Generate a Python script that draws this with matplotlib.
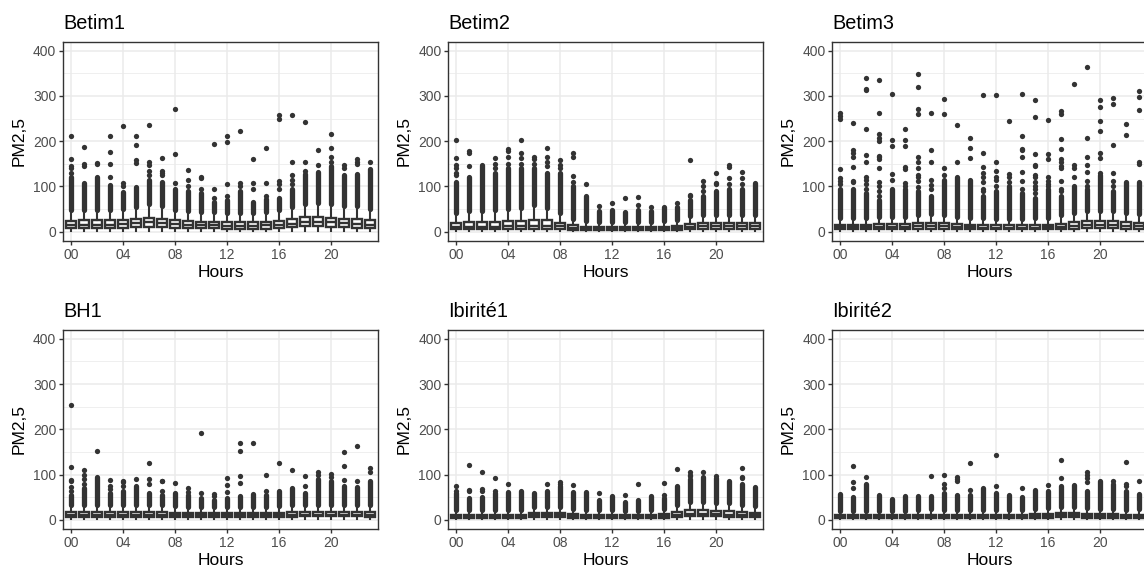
import numpy as np
import matplotlib
matplotlib.use('Agg')
import matplotlib.pyplot as plt

plt.rcParams['font.family'] = ['Liberation Sans', 'DejaVu Sans']

HOURS = np.arange(24)
TICK_HOURS = [0, 4, 8, 12, 16, 20]
TICK_LABELS = ['00', '04', '08', '12', '16', '20']

# ---- Betim1 ----
betim1_lo = [1, 1, 1, 1, 1, 1, 2, 2, 1, 1, 1, 1, 1, 1, 1, 1, 1, 2, 2, 2, 2, 2, 1, 1]
betim1_q1 = [8, 9, 9, 9, 9, 10, 11, 10, 9, 8, 8, 8, 7, 7, 7, 7, 8, 10, 12, 12, 11, 10, 9, 8]
betim1_med = [15, 16, 16, 16, 17, 19, 21, 19, 17, 15, 14, 14, 13, 13, 13, 14, 15, 18, 21, 22, 21, 19, 18, 16]
betim1_q3 = [24, 25, 25, 25, 26, 28, 31, 29, 25, 23, 22, 22, 21, 21, 21, 22, 24, 28, 32, 33, 31, 29, 28, 25]
betim1_hi = [48, 49, 49, 49, 51, 55, 61, 57, 49, 45, 43, 43, 42, 42, 42, 44, 48, 55, 62, 64, 61, 57, 56, 50]
betim1_dense = [120, 108, 122, 104, 88, 98, 115, 110, 95, 90, 85, 65, 70, 90, 65, 72, 75, 95, 128, 132, 145, 125, 128, 138]
betim1_out = [[130, 140, 145, 160, 212], [145, 150, 188], [150, 152], [122, 150, 176, 212],
              [100, 108, 233], [152, 158, 192, 212], [125, 135, 148, 155, 236], [125, 130, 135, 162],
              [108, 172, 271], [100, 115, 136], [95, 118, 120], [75, 95, 193],
              [80, 105, 198, 211], [100, 108, 223], [95, 108, 160], [80, 108, 186],
              [95, 105, 112, 248, 257], [105, 115, 125, 153, 257], [135, 153, 243], [147, 181],
              [155, 166, 185, 217], [140, 147], [150, 155, 160], [155]]

# ---- Betim2 ----
betim2_lo = [1, 1, 1, 1, 1, 1, 1, 1, 1, 1, 1, 1, 1, 1, 1, 1, 1, 1, 1, 1, 1, 1, 1, 1]
betim2_q1 = [5, 5, 5, 5, 5, 5, 6, 6, 5, 4, 3, 3, 3, 3, 3, 3, 3, 4, 5, 6, 6, 6, 6, 6]
betim2_med = [11, 11, 11, 11, 12, 12, 13, 12, 12, 9, 7, 6, 6, 6, 6, 6, 6, 8, 11, 12, 12, 12, 12, 12]
betim2_q3 = [20, 21, 21, 22, 23, 24, 27, 25, 20, 14, 11, 10, 10, 10, 10, 10, 11, 13, 17, 19, 19, 19, 19, 19]
betim2_hi = [42, 45, 45, 47, 50, 52, 58, 53, 42, 29, 23, 21, 21, 21, 21, 21, 23, 26, 35, 38, 38, 38, 38, 38]
betim2_dense = [110, 120, 148, 130, 140, 140, 140, 130, 130, 100, 78, 45, 48, 44, 48, 45, 55, 55, 70, 80, 90, 95, 95, 107]
betim2_out = [[125, 130, 140, 148, 162, 202], [145, 175, 178], [], [140, 150, 163],
              [150, 165, 178, 183], [150, 162, 175, 202], [150, 160, 165], [145, 155, 165, 185],
              [140, 147, 158], [110, 123, 165, 174], [106], [57],
              [64], [75], [58, 76], [55],
              [], [63], [80, 82, 158], [90, 100, 113],
              [105, 108, 130], [105, 118, 143, 148], [105, 118, 131], []]

# ---- Betim3 ----
betim3_lo = [1, 1, 1, 1, 1, 1, 1, 1, 1, 1, 1, 1, 1, 1, 1, 1, 1, 1, 1, 1, 1, 1, 1, 1]
betim3_q1 = [6, 6, 6, 6, 6, 6, 6, 7, 7, 6, 6, 5, 5, 5, 5, 5, 6, 6, 7, 8, 8, 8, 7, 7]
betim3_med = [10, 10, 10, 11, 11, 11, 12, 13, 12, 11, 10, 9, 9, 9, 9, 9, 10, 11, 13, 15, 15, 15, 13, 13]
betim3_q3 = [16, 16, 16, 17, 17, 17, 19, 20, 19, 17, 16, 15, 14, 14, 14, 15, 16, 18, 21, 23, 23, 23, 21, 20]
betim3_hi = [31, 31, 31, 33, 33, 33, 38, 39, 37, 33, 31, 30, 28, 28, 28, 30, 31, 36, 42, 46, 46, 46, 42, 39]
betim3_dense = [95, 95, 85, 70, 95, 95, 90, 80, 115, 120, 115, 80, 90, 100, 85, 75, 95, 80, 100, 95, 125, 90, 110, 110]
betim3_out = [[105, 112, 118, 138, 250, 255, 262], [110, 112, 143, 165, 175, 180, 240],
              [95, 105, 115, 122, 155, 170, 227, 312, 315, 340],
              [80, 90, 100, 110, 140, 160, 165, 168, 200, 208, 215, 263, 335],
              [115, 128, 190, 202, 305], [102, 108, 138, 142, 190, 203, 227],
              [98, 112, 120, 125, 140, 155, 165, 260, 272, 320, 348], [95, 103, 115, 155, 180, 263],
              [125, 140, 260, 293], [155, 235], [162, 185, 207],
              [90, 95, 110, 120, 130, 143, 175, 303], [100, 115, 122, 135, 153, 303],
              [110, 120, 127, 245], [95, 112, 133, 165, 180, 182, 212, 305],
              [85, 95, 100, 110, 120, 125, 145, 148, 172, 253, 290],
              [100, 105, 112, 122, 160, 172, 246],
              [90, 95, 112, 140, 145, 153, 160, 183, 205, 260, 267],
              [120, 140, 148, 327], [102, 112, 133, 148, 165, 207, 363],
              [130, 162, 175, 222, 245, 275, 290], [100, 112, 130, 192, 283, 296],
              [213, 238], [150, 155, 268, 297, 310]]

# ---- BH1 ----
bh1_lo = [1, 1, 1, 1, 1, 1, 1, 1, 1, 1, 1, 1, 1, 1, 1, 1, 1, 1, 1, 1, 1, 1, 1, 1]
bh1_q1 = [7, 7, 7, 7, 7, 7, 7, 7, 7, 6, 6, 6, 6, 6, 6, 6, 7, 7, 8, 8, 8, 8, 8, 7]
bh1_med = [11, 11, 11, 11, 11, 11, 11, 11, 11, 10, 10, 10, 10, 10, 10, 10, 11, 11, 12, 12, 12, 12, 12, 11]
bh1_q3 = [17, 17, 17, 17, 17, 17, 17, 17, 16, 15, 15, 15, 15, 15, 15, 15, 16, 17, 18, 18, 18, 18, 18, 17]
bh1_hi = [32, 32, 32, 32, 32, 32, 32, 32, 30, 28, 28, 28, 28, 28, 28, 28, 30, 32, 33, 33, 33, 33, 33, 32]
bh1_dense = [55, 70, 95, 60, 65, 75, 60, 55, 60, 55, 48, 45, 48, 52, 58, 55, 65, 70, 60, 90, 85, 75, 72, 85]
bh1_out = [[65, 72, 85, 88, 118, 253], [80, 90, 100, 110], [152], [68, 75, 88],
           [75, 83, 87], [90], [80, 90, 125], [65, 85, 87],
           [82], [62, 70], [60, 192], [52, 57],
           [62, 77, 93], [82, 96, 152, 170], [171], [65, 100],
           [125], [110], [75, 97], [100, 107],
           [95, 102], [88, 120, 150], [85, 163], [105, 115]]

# ---- Ibirite1 ----
ibirite1_lo = [1, 1, 1, 1, 1, 1, 1, 1, 1, 1, 1, 1, 1, 1, 1, 1, 1, 1, 1, 1, 1, 1, 1, 1]
ibirite1_q1 = [5, 5, 5, 5, 5, 5, 6, 6, 6, 5, 5, 5, 5, 5, 5, 5, 5, 7, 8, 8, 8, 7, 7, 6]
ibirite1_med = [8, 8, 8, 8, 8, 8, 10, 10, 10, 9, 8, 8, 8, 8, 8, 8, 9, 12, 14, 14, 13, 12, 12, 11]
ibirite1_q3 = [12, 12, 12, 12, 12, 12, 15, 15, 15, 13, 12, 12, 12, 11, 11, 12, 13, 18, 21, 21, 20, 19, 18, 16]
ibirite1_hi = [22, 22, 22, 22, 22, 22, 28, 28, 28, 25, 22, 22, 22, 20, 20, 22, 25, 34, 40, 40, 38, 37, 34, 31]
ibirite1_dense = [60, 48, 50, 60, 62, 63, 60, 65, 75, 62, 62, 45, 52, 40, 45, 52, 48, 75, 90, 95, 92, 85, 80, 72]
ibirite1_out = [[65, 75], [65, 66, 122], [65, 68, 106], [65, 93],
                [80], [], [], [80],
                [80, 84], [78], [], [60],
                [], [55], [80], [],
                [55, 82], [112], [97, 100, 107], [105],
                [97], [], [92, 95, 114], []]

# ---- Ibirite2 ----
ibirite2_lo = [1, 1, 1, 1, 1, 1, 1, 1, 1, 1, 1, 1, 1, 1, 1, 1, 1, 1, 1, 1, 1, 1, 1, 1]
ibirite2_q1 = [4, 4, 4, 4, 4, 4, 4, 4, 5, 5, 5, 5, 5, 5, 5, 5, 5, 6, 6, 5, 5, 5, 5, 4]
ibirite2_med = [7, 7, 7, 7, 7, 7, 7, 8, 8, 8, 8, 8, 8, 8, 8, 8, 9, 10, 10, 9, 9, 9, 8, 8]
ibirite2_q3 = [10, 10, 10, 10, 10, 10, 11, 12, 12, 12, 12, 12, 12, 12, 12, 13, 14, 15, 15, 14, 13, 13, 12, 12]
ibirite2_hi = [19, 19, 19, 19, 19, 19, 21, 24, 22, 22, 22, 22, 22, 22, 22, 25, 27, 28, 28, 27, 25, 25, 22, 24]
ibirite2_dense = [57, 50, 80, 55, 47, 53, 52, 52, 60, 55, 55, 70, 60, 56, 50, 67, 65, 75, 77, 65, 85, 80, 65, 58]
ibirite2_out = [[], [70, 83, 120], [95], [],
                [], [], [], [98],
                [70, 80, 100], [85, 90, 94], [67, 125], [],
                [75, 144], [], [70], [],
                [78], [93, 133], [], [83, 92, 100, 107],
                [], [86], [75, 80, 128], [85]]

PANELS = [
    ('Betim1', betim1_lo, betim1_q1, betim1_med, betim1_q3, betim1_hi, betim1_dense, betim1_out),
    ('Betim2', betim2_lo, betim2_q1, betim2_med, betim2_q3, betim2_hi, betim2_dense, betim2_out),
    ('Betim3', betim3_lo, betim3_q1, betim3_med, betim3_q3, betim3_hi, betim3_dense, betim3_out),
    ('BH1', bh1_lo, bh1_q1, bh1_med, bh1_q3, bh1_hi, bh1_dense, bh1_out),
    ('Ibirité1', ibirite1_lo, ibirite1_q1, ibirite1_med, ibirite1_q3, ibirite1_hi, ibirite1_dense, ibirite1_out),
    ('Ibirité2', ibirite2_lo, ibirite2_q1, ibirite2_med, ibirite2_q3, ibirite2_hi, ibirite2_dense, ibirite2_out),
]

DARK = '#333333'
GRID = '#EBEBEB'
W, H = 1144, 572

# axes boxes in pixels (left, top) -- right column runs off the figure edge
COL_LEFT = [63.2, 448.3, 832.3]
ROW_TOP = [41.6, 329.8]
AX_W, AX_H = 314.6, 199.2


def draw_panel(ax, title, lo, q1, med, q3, hi, dense, outs):
    ax.set_axisbelow(True)
    ax.set_ylim(-20, 420)
    ax.set_yticks([0, 100, 200, 300, 400])
    ax.set_yticks([50, 150, 250, 350], minor=True)
    ax.grid(which='major', color=GRID, linewidth=1.1)
    ax.grid(which='minor', axis='y', color=GRID, linewidth=0.55)
    ax.tick_params(which='minor', length=0)

    # dense run of outliers above the upper whisker
    ax.vlines(HOURS, hi, dense, color=DARK, linewidth=3.8, capstyle='round', zorder=2)
    xs = [h for h, vals in zip(HOURS, outs) for _ in vals]
    ys = [v for vals in outs for v in vals]
    ax.plot(xs, ys, 'o', ms=3.8, color=DARK, mec='none', zorder=2)

    stats = [dict(whislo=a, q1=b, med=c, q3=d, whishi=e, fliers=[])
             for a, b, c, d, e in zip(lo, q1, med, q3, hi)]
    ax.bxp(stats, positions=HOURS, widths=0.75, showfliers=False, showcaps=False,
           patch_artist=True,
           boxprops=dict(facecolor='white', edgecolor=DARK, linewidth=1.7),
           whiskerprops=dict(color=DARK, linewidth=1.5),
           medianprops=dict(color=DARK, linewidth=1.7), zorder=3)
    ax.set_xlim(-0.6, 23.6)
    ax.set_xticks(TICK_HOURS)
    ax.set_xticklabels(TICK_LABELS)

    for s in ax.spines.values():
        s.set_color(DARK)
        s.set_linewidth(1.0)
    ax.tick_params(which='major', color=DARK, length=2.75, width=1.0,
                   labelcolor='#4D4D4D', labelsize=10, pad=2.2)
    ax.set_xlabel('Hours', fontsize=12.5, labelpad=2.5)
    ax.set_ylabel('PM2,5', fontsize=12.5, labelpad=4.5)
    ax.set_title(title, loc='left', fontsize=14.3, pad=9.0)


fig = plt.figure(figsize=(W / 100, H / 100), dpi=100)
for i, panel in enumerate(PANELS):
    r, c = divmod(i, 3)
    left = COL_LEFT[c] / W
    bottom = (H - ROW_TOP[r] - AX_H) / H
    ax = fig.add_axes([left, bottom, AX_W / W, AX_H / H])
    draw_panel(ax, *panel)

fig.savefig('out.png', dpi=100)
